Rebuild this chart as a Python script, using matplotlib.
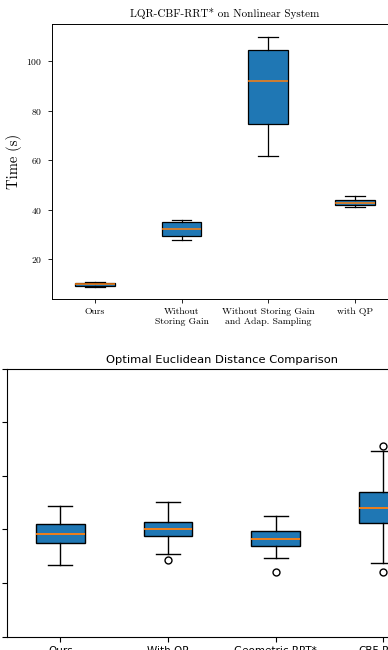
import matplotlib
matplotlib.use("Agg")
import matplotlib.pyplot as plt

plt.rcParams['font.family'] = 'cmr10'
plt.rcParams['mathtext.fontset'] = 'cm'
plt.rcParams['axes.formatter.use_mathtext'] = True

# top chart: planning time (s)
time_labels = ["Ours", "Without\nStoring Gain", "Without Storing Gain\nand Adap. Sampling", "with QP"]
time_whislo = [9.0, 27.9, 61.6, 41.3]
time_q1 = [9.4, 29.4, 74.5, 41.9]
time_med = [9.9, 32.2, 92.2, 42.9]
time_q3 = [10.4, 35.0, 104.6, 43.9]
time_whishi = [10.8, 35.7, 110.0, 45.7]

# bottom chart: optimal euclidean distance
dist_labels = ["Ours", "With QP", "Geometric RRT*", "CBF-RRT*"]
dist_whislo = [2.67, 3.09, 2.93, 2.75]
dist_q1 = [3.49, 3.76, 3.40, 4.26]
dist_med = [3.83, 4.02, 3.66, 4.80]
dist_q3 = [4.21, 4.27, 3.96, 5.39]
dist_whishi = [4.89, 5.03, 4.50, 6.94]
dist_fliers = [[], [2.85], [2.42], [7.10, 2.42]]


def make_stats(labels, lo, q1, med, q3, hi, fliers=None):
    out = []
    for i in range(len(labels)):
        out.append(dict(label=labels[i], whislo=lo[i], q1=q1[i], med=med[i],
                        q3=q3[i], whishi=hi[i],
                        fliers=fliers[i] if fliers else []))
    return out


fig = plt.figure(figsize=(3.88, 6.5), dpi=100)

ax1 = fig.add_axes([0.1332, 0.54, 0.8925, 0.423])
ax1.bxp(make_stats(time_labels, time_whislo, time_q1, time_med, time_q3, time_whishi),
        widths=0.46, patch_artist=True,
        boxprops=dict(facecolor='#1f77b4', edgecolor='black', linewidth=0.9),
        medianprops=dict(color='#ff7f0e', linewidth=1.1),
        whiskerprops=dict(linewidth=0.9), capprops=dict(linewidth=0.9))
ax1.set_title("LQR-CBF-RRT* on Nonlinear System", fontsize=8, pad=5)
ax1.set_ylabel("Time (s)", fontsize=10.5)
ax1.yaxis.set_label_coords(-0.085, 0.5)
ax1.tick_params(labelsize=7, width=0.6, length=3)
for s in ax1.spines.values():
    s.set_linewidth(0.7)

ax2 = fig.add_axes([0.0168, 0.0205, 1.110, 0.4123])
ax2.bxp(make_stats(dist_labels, dist_whislo, dist_q1, dist_med, dist_q3, dist_whishi, dist_fliers),
        widths=0.45, patch_artist=True,
        boxprops=dict(facecolor='#1f77b4', edgecolor='black', linewidth=1.0),
        medianprops=dict(color='#ff7f0e', linewidth=1.3),
        flierprops=dict(marker='o', markersize=5, markerfacecolor='none'))
ax2.set_ylim(0, 10)
ax2.set_yticks([0, 2, 4, 6, 8, 10])
ax2.set_title("Optimal Euclidean Distance Comparison", fontsize=8.25,
              fontfamily='DejaVu Sans', pad=4)
for lab in ax2.get_xticklabels() + ax2.get_yticklabels():
    lab.set_fontfamily('DejaVu Sans')
    lab.set_fontsize(7.5)

fig.savefig("out.png", dpi=100)
